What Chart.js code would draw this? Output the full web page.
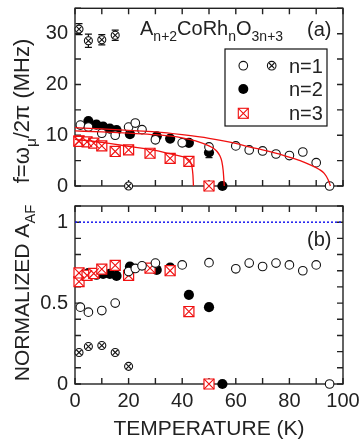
<!DOCTYPE html>
<html>
<head>
<meta charset="utf-8">
<script src="https://cdn.jsdelivr.net/npm/chart.js@4.4.0/dist/chart.umd.min.js"></script>
<style>
  html, body { margin: 0; padding: 0; background: #fff; }
  #wrap { position: relative; width: 362px; height: 442px; }
  canvas { position: absolute; left: 0; }
  #top { top: 0; }
  #bottom { top: 195px; }
</style>
</head>
<body>
<div id="wrap">
  <canvas id="top" width="362" height="195"></canvas>
  <canvas id="bottom" width="362" height="247"></canvas>
</div>
<script>
// n=1, open circles
const n1Temp = [2, 5, 10, 15, 20, 22.5, 25, 30, 40, 50, 60, 65, 70, 75, 80, 85, 90, 95];
const n1Freq = [12.0, 11.6, 10.4, 10.0, 11.6, 12.4, 11.1, 9.1, 8.5, 7.7, 7.9, 7.1, 6.9, 6.3, 6.0, 6.7, 4.6, 0];
const n1Asym = [0.475, 0.444, 0.454, 0.5, 0.695, 0.714, 0.73, 0.747, 0.736, 0.75, 0.712, 0.747, 0.726, 0.747, 0.736, 0.7, 0.736, 0];

// n=1, crossed circles
const n1bTemp = [1.5, 5, 10, 15, 20];
const n1bFreq = [30.9, 28.6, 28.8, 29.7, 0];
const n1bFreqErr = [1.1, 1.3, 1.0, 1.0, 0];
const n1bAsym = [0.195, 0.232, 0.238, 0.195, 0.109];

// n=2, filled circles
const n2Temp = [5, 8, 10.5, 13, 15.5, 20.5, 30.5, 35.5, 42.5, 50, 55];
const n2Freq = [12.8, 12.1, 11.7, 11.3, 11.0, 10.2, 9.8, 9.35, 8.5, 6.6, 0];
const n2FreqErr = [0, 0, 0, 0, 0, 0, 0, 0, 0, 1.0, 0];
const n2Asym = [0.685, 0.675, 0.68, 0.68, 0.668, 0.726, 0.705, 0.72, 0.551, 0.475, 0];

// n=3, crossed squares
const n3Temp = [1.5, 1.5, 4.5, 7, 10, 15, 20, 28, 35.5, 42.5, 50];
const n3Freq = [8.9, 8.8, 8.7, 8.45, 7.9, 6.8, 7.1, 6.45, 5.45, 4.85, 0];
const n3Asym = [0.633, 0.686, 0.672, 0.683, 0.71, 0.733, 0.672, 0.716, 0.7, 0.448, 0];

// fitted curves (red)
const fit1Temp = [0, 10, 20, 30, 40, 50, 60, 65, 70, 78, 84, 88, 91, 93, 94.5, 95.3];
const fit1Freq = [11.5, 11.25, 10.95, 10.65, 10.1, 9.4, 8.4, 7.7, 7.1, 6.0, 5.0, 4.1, 3.3, 2.5, 1.2, 0];
const fit2Temp = [0, 10, 20, 30, 40, 45, 50, 52, 53, 54, 54.8, 55.3, 55.7];
const fit2Freq = [10.85, 10.65, 10.4, 10.1, 9.5, 8.9, 7.9, 7.3, 6.8, 6.0, 4.8, 3.0, 0];
const fit3Temp = [0, 10, 20, 30, 35, 39.3, 42.4, 43.6, 44, 44.2];
const fit3Freq = [9.2, 8.6, 7.8, 7.0, 6.4, 5.9, 5.2, 3.9, 2.2, 0];

// full asymmetry reference
const refTemp = [0, 100];
const refLevel = [1, 1];

const legendLabels = ["n=1", "n=2", "n=3"];
const xTickLabels = [0, 20, 40, 60, 80, 100];

const FONT = '"Liberation Sans", Arial, sans-serif';
const TXT = "#222";
const RED = "#f01010";
const INK = "#111";

const pts = (xs, ys) => xs.map((x, i) => ({ x, y: ys[i] }));

// text with subscripts: parts = [[text, isSub], ...]
const drawParts = (ctx, parts, x, y, size, align) => {
  const fontOf = (sub) => `${sub ? size * 0.7 : size}px ${FONT}`;
  let total = 0;
  parts.forEach(([t, sub]) => {
    ctx.font = fontOf(sub);
    total += ctx.measureText(t).width;
  });
  let cx = align === "center" ? x - total / 2 : x;
  ctx.textAlign = "left";
  ctx.textBaseline = "alphabetic";
  parts.forEach(([t, sub]) => {
    ctx.font = fontOf(sub);
    ctx.fillText(t, cx, y + (sub ? size * 0.3 : 0));
    cx += ctx.measureText(t).width;
  });
};

// legend symbols
const legendMark = (ctx, kind, x, y) => {
  ctx.save();
  ctx.lineWidth = 1.1;
  if (kind === "box") {
    ctx.fillStyle = "#fff";
    ctx.fillRect(x - 5, y - 5, 10, 10);
    ctx.strokeStyle = RED;
    ctx.strokeRect(x - 5, y - 5, 10, 10);
    ctx.beginPath();
    ctx.moveTo(x - 5, y - 5);
    ctx.lineTo(x + 5, y + 5);
    ctx.moveTo(x + 5, y - 5);
    ctx.lineTo(x - 5, y + 5);
    ctx.stroke();
  } else {
    ctx.beginPath();
    ctx.arc(x, y, kind === "fill" ? 5 : 4.3, 0, Math.PI * 2);
    ctx.fillStyle = kind === "fill" ? "#000" : "#fff";
    ctx.fill();
    if (kind !== "fill") {
      ctx.strokeStyle = INK;
      ctx.stroke();
    }
    if (kind === "cross") {
      ctx.beginPath();
      ctx.moveTo(x - 2.7, y - 2.7);
      ctx.lineTo(x + 2.7, y + 2.7);
      ctx.moveTo(x + 2.7, y - 2.7);
      ctx.lineTo(x - 2.7, y + 2.7);
      ctx.stroke();
    }
  }
  ctx.restore();
};

const frame = {
  id: "frame",
  beforeDatasetsDraw(chart, args, opts) {
    const { ctx, chartArea: a, scales } = chart;
    const { x, y } = scales;
    ctx.save();
    ctx.strokeStyle = "#222";
    ctx.lineWidth = 1.4;
    ctx.beginPath();
    for (let i = 0; x.min + i * opts.xStep <= x.max + 1e-9; i++) {
      const px = x.getPixelForValue(x.min + i * opts.xStep);
      ctx.moveTo(px, a.bottom);
      ctx.lineTo(px, a.bottom - 6);
      ctx.moveTo(px, a.top);
      ctx.lineTo(px, a.top + 6);
    }
    for (let i = 0; y.min + i * opts.yStep <= y.max + 1e-9; i++) {
      const py = y.getPixelForValue(y.min + i * opts.yStep);
      ctx.moveTo(a.left, py);
      ctx.lineTo(a.left + 6, py);
      ctx.moveTo(a.right, py);
      ctx.lineTo(a.right - 6, py);
    }
    ctx.stroke();
    ctx.strokeRect(a.left, a.top, a.right - a.left, a.bottom - a.top);
    ctx.restore();
  },
};

const errorBars = {
  id: "errorBars",
  beforeDatasetsDraw(chart) {
    const { ctx, scales } = chart;
    const { x, y } = scales;
    chart.data.datasets.forEach((ds) => {
      if (!ds.errors) return;
      ctx.save();
      ctx.strokeStyle = INK;
      ctx.lineWidth = 1.2;
      ds.data.forEach((p, i) => {
        const e = ds.errors[i];
        if (!e) return;
        const px = x.getPixelForValue(p.x);
        const y1 = y.getPixelForValue(p.y - e);
        const y2 = y.getPixelForValue(p.y + e);
        ctx.beginPath();
        ctx.moveTo(px, y1);
        ctx.lineTo(px, y2);
        ctx.moveTo(px - 3.5, y1);
        ctx.lineTo(px + 3.5, y1);
        ctx.moveTo(px - 3.5, y2);
        ctx.lineTo(px + 3.5, y2);
        ctx.stroke();
      });
      ctx.restore();
    });
  },
};

const topText = {
  id: "topText",
  afterDraw(chart) {
    const { ctx } = chart;
    ctx.save();
    ctx.fillStyle = TXT;
    drawParts(ctx, [["A"], ["n+2", 1], ["CoRh"], ["n", 1], ["O"], ["3n+3", 1]], 140, 35, 20);
    drawParts(ctx, [["(a)"]], 307, 36, 20);

    // legend box
    ctx.fillStyle = "#fff";
    ctx.fillRect(225, 49, 102, 77);
    ctx.strokeStyle = INK;
    ctx.lineWidth = 1.2;
    ctx.strokeRect(225, 49, 102, 77);
    const rows = [65.7, 89, 113.3];
    legendMark(ctx, "open", 243.3, rows[0]);
    legendMark(ctx, "cross", 271.7, rows[0]);
    legendMark(ctx, "fill", 243.3, rows[1]);
    legendMark(ctx, "box", 243.3, rows[2]);
    ctx.fillStyle = TXT;
    legendLabels.forEach((l, i) => drawParts(ctx, [[l]], 289, rows[i] + 7, 20));

    // y title
    ctx.translate(29, 111);
    ctx.rotate(-Math.PI / 2);
    drawParts(ctx, [["f=\u03c9"], ["\u03bc", 1], ["/2\u03c0 (MHz)"]], 0, 0, 22, "center");
    ctx.restore();
  },
};

const bottomText = {
  id: "bottomText",
  afterDraw(chart) {
    const { ctx } = chart;
    ctx.save();
    ctx.fillStyle = TXT;
    drawParts(ctx, [["(b)"]], 307, 51, 20);
    drawParts(ctx, [["TEMPERATURE (K)"]], 209, 240, 21, "center");
    ctx.translate(28.5, 98);
    ctx.rotate(-Math.PI / 2);
    drawParts(ctx, [["NORMALIZED A"], ["AF", 1]], 0, 0, 21, "center");
    ctx.restore();
  },
};

const tickFont = { family: FONT, size: 20 };

const commonOpts = (yMin, yMax, yStep, yLabel, pad, xHeight, showX) => ({
  responsive: false,
  animation: false,
  events: [],
  layout: { padding: pad },
  plugins: { legend: { display: false }, tooltip: { enabled: false } },
  scales: {
    x: {
      type: "linear",
      min: 0,
      max: 100,
      grid: { display: false, drawTicks: false },
      border: { display: false },
      ticks: {
        display: showX,
        stepSize: 10,
        autoSkip: false,
        maxRotation: 0,
        font: tickFont,
        color: TXT,
        padding: 5,
        callback: (v) => (xTickLabels.includes(v) ? String(v) : ""),
      },
      afterFit: (s) => {
        s.height = xHeight;
        s.paddingLeft = 0;
        s.paddingRight = 0;
      },
    },
    y: {
      min: yMin,
      max: yMax,
      grid: { display: false, drawTicks: false },
      border: { display: false },
      ticks: {
        stepSize: yStep,
        autoSkip: false,
        font: tickFont,
        color: TXT,
        padding: 7,
        callback: yLabel,
      },
      afterFit: (s) => {
        s.width = 75;
        s.paddingTop = 0;
        s.paddingBottom = 0;
      },
    },
  },
});

// marker datasets built from chart.js point styles
const openSet = (data, order) => ({
  data, order, clip: false,
  pointStyle: "circle", pointRadius: 4.3,
  backgroundColor: "#fff", borderColor: INK, borderWidth: 1.1,
});
const fillSet = (data, order, errors) => ({
  data, order, clip: false, errors,
  pointStyle: "circle", pointRadius: 5.1,
  backgroundColor: "#000", borderColor: "#000", borderWidth: 0,
});
const crossSet = (data, order, radius, color) => ({
  data, order, clip: false,
  pointStyle: "crossRot", pointRadius: radius,
  borderColor: color, borderWidth: 1.1,
});
const boxSet = (data, order) => ({
  data, order, clip: false,
  pointStyle: "rect", pointRadius: 7.1,
  backgroundColor: "#fff", borderColor: RED, borderWidth: 1.2,
});

const fitLine = (xs, ys) => ({
  data: pts(xs, ys),
  showLine: true,
  borderColor: RED,
  borderWidth: 1.3,
  pointRadius: 0,
  cubicInterpolationMode: "monotone",
  clip: false,
  order: 0,
});

const topOpts = commonOpts(0, 35, 5, (v) => (v % 10 === 0 ? String(v) : ""), { left: 0, right: 19, top: 7, bottom: 9 }, 0, false);
topOpts.plugins.frame = { xStep: 10, yStep: 5 };

const topN1b = pts(n1bTemp, n1bFreq);
const topN3 = pts(n3Temp, n3Freq);

new Chart(document.getElementById("top"), {
  type: "scatter",
  data: {
    datasets: [
      fitLine(fit1Temp, fit1Freq),
      fitLine(fit2Temp, fit2Freq),
      fitLine(fit3Temp, fit3Freq),
      crossSet(topN1b, 1, 3.8, INK),
      Object.assign(openSet(topN1b, 2), { pointRadius: 4, errors: n1bFreqErr }),
      openSet(pts(n1Temp, n1Freq), 3),
      crossSet(topN3, 4, 7.1, RED),
      boxSet(topN3, 5),
      fillSet(pts(n2Temp, n2Freq), 6, n2FreqErr),
    ],
  },
  options: topOpts,
  plugins: [frame, errorBars, topText],
});

const asymLabel = (v) => {
  const r = Math.round(v * 10);
  return r % 5 === 0 ? String(r / 10) : "";
};
const bottomOpts = commonOpts(0, 1.1, 0.1, asymLabel, { left: 0, right: 19, top: 11, bottom: 0 }, 58, true);
bottomOpts.plugins.frame = { xStep: 10, yStep: 0.1 };

const botN1b = pts(n1bTemp, n1bAsym);
const botN3 = pts(n3Temp, n3Asym);

new Chart(document.getElementById("bottom"), {
  type: "scatter",
  data: {
    datasets: [
      {
        data: pts(refTemp, refLevel),
        showLine: true,
        borderColor: "#1a1aee",
        borderWidth: 1.5,
        borderDash: [2, 2],
        pointRadius: 0,
        order: 9,
      },
      crossSet(botN1b, 1, 3.8, INK),
      Object.assign(openSet(botN1b, 2), { pointRadius: 4 }),
      openSet(pts(n1Temp, n1Asym), 3),
      crossSet(botN3, 4, 7.1, RED),
      boxSet(botN3, 5),
      fillSet(pts(n2Temp, n2Asym), 6),
    ],
  },
  options: bottomOpts,
  plugins: [frame, bottomText],
});
</script>
</body>
</html>
